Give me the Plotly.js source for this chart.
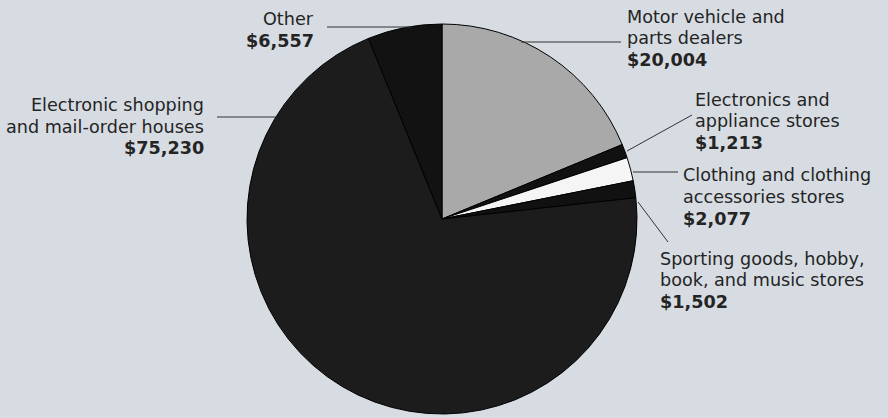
<!DOCTYPE html>
<html><head><meta charset="utf-8">
<script src="https://cdn.plot.ly/plotly-3.0.1.min.js"></script>
<style>html,body{margin:0;padding:0;background:#d7dce2;}</style>
</head><body>
<div id="chart" style="width:888px;height:418px;"></div>
<script>
const categories = [
  "Motor vehicle and parts dealers",
  "Electronics and appliance stores",
  "Clothing and clothing accessories stores",
  "Sporting goods, hobby, book, and music stores",
  "Electronic shopping and mail-order houses",
  "Other"
];
const values = [20004, 1213, 2077, 1502, 75230, 6557];
const labelLines = [
  ["Motor vehicle and", "parts dealers"],
  ["Electronics and", "appliance stores"],
  ["Clothing and clothing", "accessories stores"],
  ["Sporting goods, hobby,", "book, and music stores"],
  ["Electronic shopping", "and mail-order houses"],
  ["Other"]
];
const valueLabels = ["$20,004", "$1,213", "$2,077", "$1,502", "$75,230", "$6,557"];
const sliceColors = ["#a9a9a9", "#111111", "#f5f5f5", "#111111", "#1c1c1c", "#121212"];

const W = 888, H = 418;
const cx = 442, cy = 219, R = 195;
const px = x => x / W, py = y => 1 - y / H;
const LINE = 21.7;

// label placement (pixels): text anchor x, first line centre y, alignment, leader line
const labelCfg = [
  {tx: 626, ty: 16.5, xa: "left", line: [521, 42, 621, 42]},
  {tx: 694, ty: 99.5, xa: "left", line: [627, 151, 692, 115]},
  {tx: 682, ty: 175.5, xa: "left", line: [633, 172, 678, 172]},
  {tx: 659, ty: 258.5, xa: "left", line: [638, 202, 668, 242]},
  {tx: 205, ty: 105, xa: "right", line: [217, 117, 276, 117]},
  {tx: 315, ty: 19.5, xa: "right", line: [327, 27, 412, 27]}
];

const FONT = "DejaVu Sans, Verdana, sans-serif";
const annotations = [];
categories.forEach((c, i) => {
  const cfg = labelCfg[i];
  const lines = labelLines[i].concat(["<b>" + valueLabels[i] + "</b>"]);
  lines.forEach((t, k) => {
    annotations.push({
      x: px(cfg.tx), y: py(cfg.ty + k * LINE), xref: "paper", yref: "paper",
      xanchor: cfg.xa, yanchor: "middle", align: cfg.xa,
      showarrow: false, text: t, borderpad: 0,
      font: {family: FONT, size: 17.6, color: "#242424"}
    });
  });
});
const shapes = labelCfg.map(l => ({
  type: "line", xref: "paper", yref: "paper",
  x0: px(l.line[0]), y0: py(l.line[1]), x1: px(l.line[2]), y1: py(l.line[3]),
  line: {color: "#333", width: 1}
}));

const trace = {
  type: "pie",
  labels: categories,
  values: values,
  sort: false,
  direction: "clockwise",
  rotation: 0,
  textinfo: "none",
  hoverinfo: "label+value",
  marker: {colors: sliceColors, line: {color: "#000", width: 1}},
  domain: {x: [(cx - R) / W, (cx + R) / W], y: [1 - (cy + R) / H, 1 - (cy - R) / H]}
};

Plotly.newPlot("chart", [trace], {
  width: W, height: H,
  margin: {l: 0, r: 0, t: 0, b: 0},
  paper_bgcolor: "#d7dce2",
  plot_bgcolor: "#d7dce2",
  showlegend: false,
  annotations: annotations,
  shapes: shapes
}, {displayModeBar: false, staticPlot: true});
</script>
</body></html>
